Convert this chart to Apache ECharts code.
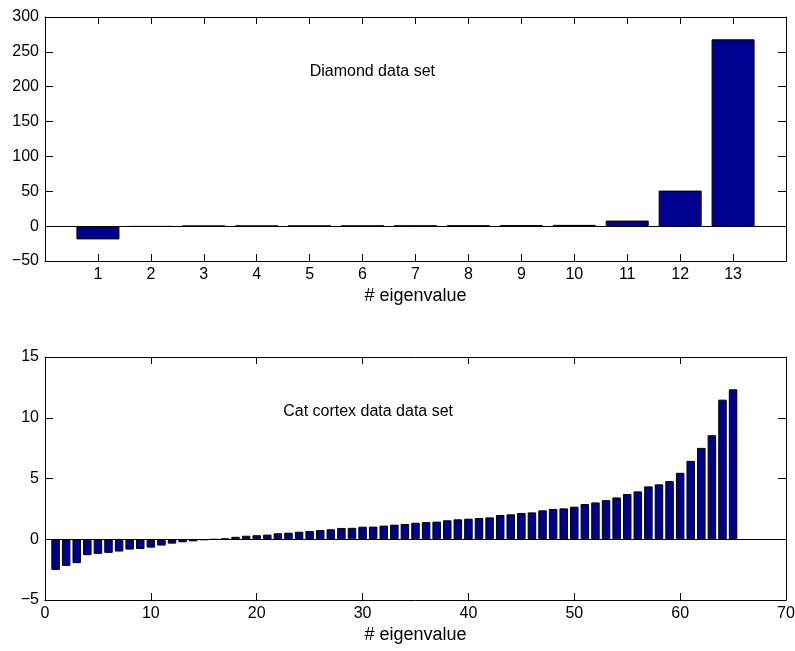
<!DOCTYPE html>
<html>
<head>
<meta charset="utf-8">
<script src="https://cdn.jsdelivr.net/npm/echarts@6/dist/echarts.min.js"></script>
<style>
html,body{margin:0;padding:0;background:#fff;}
#c{width:795px;height:651px;}
</style>
</head>
<body>
<div id="c"></div>
<script>
// Diamond data set eigenvalues (1..13)
const diamondIdx = [1,2,3,4,5,6,7,8,9,10,11,12,13];
const diamondVals = [-19, -0.8, 0.3, 0.4, 0.5, 0.6, 0.7, 0.9, 1.2, 1.8, 8, 51, 268];
const diamondYTicks = [-50, 0, 50, 100, 150, 200, 250, 300];

// Cat cortex data set eigenvalues (1..65)
const catVals = [
  -2.52, -2.19, -1.97, -1.31, -1.2, -1.12, -1.01, -0.85, -0.8, -0.69,
  -0.52, -0.36, -0.25, -0.17, -0.07, -0.02, 0.05, 0.2, 0.29, 0.33,
  0.38, 0.49, 0.54, 0.62, 0.68, 0.76, 0.82, 0.93, 0.94, 1.03,
  1.04, 1.12, 1.2, 1.26, 1.36, 1.41, 1.45, 1.56, 1.64, 1.69,
  1.75, 1.8, 2.0, 2.05, 2.16, 2.21, 2.38, 2.49, 2.54, 2.68,
  2.9, 3.03, 3.22, 3.44, 3.72, 3.94, 4.35, 4.52, 4.79, 5.47,
  6.45, 7.52, 8.56, 11.49, 12.34
];
const catIdx = catVals.map((v, i) => i + 1);

const FONT = 'Liberation Sans, Arial, Helvetica, sans-serif';
const fmtNum = v => (v < 0 ? '\u2212' + Math.abs(v) : String(v));

const chart = echarts.init(document.getElementById('c'), null, {renderer: 'canvas'});

function mainX(gi, min, max, interval, showFn) {
  return {
    type: 'value', gridIndex: gi, position: 'bottom', min, max, interval,
    name: '# eigenvalue', nameLocation: 'middle', nameGap: 26,
    nameTextStyle: {color: '#000', fontSize: 18, fontFamily: FONT},
    axisLine: {show: true, onZero: false, lineStyle: {color: '#000', width: 1}},
    axisTick: {show: true, inside: true, length: 7, lineStyle: {color: '#000'}},
    axisLabel: {show: true, color: '#000', fontSize: 16, fontFamily: FONT, margin: 6,
      formatter: v => showFn(v) ? fmtNum(v) : ''},
    splitLine: {show: false}
  };
}
function mirrorX(gi, min, max, interval) {
  return {
    type: 'value', gridIndex: gi, position: 'top', min, max, interval,
    axisLine: {show: true, onZero: false, lineStyle: {color: '#000', width: 1}},
    axisTick: {show: true, inside: true, length: 7, lineStyle: {color: '#000'}},
    axisLabel: {show: false}, splitLine: {show: false}
  };
}
function mainY(gi, min, max, interval) {
  return {
    type: 'value', gridIndex: gi, position: 'left', min, max, interval,
    axisLine: {show: true, onZero: false, lineStyle: {color: '#000', width: 1}},
    axisTick: {show: true, inside: true, length: 8, lineStyle: {color: '#000'}},
    axisLabel: {show: true, color: '#000', fontSize: 16, fontFamily: FONT, margin: 6,
      formatter: fmtNum},
    splitLine: {show: false}
  };
}
function mirrorY(gi, min, max, interval) {
  return {
    type: 'value', gridIndex: gi, position: 'right', min, max, interval,
    axisLine: {show: true, onZero: false, lineStyle: {color: '#000', width: 1}},
    axisTick: {show: true, inside: true, length: 8, lineStyle: {color: '#000'}},
    axisLabel: {show: false}, splitLine: {show: false}
  };
}

const zeroLine = {
  silent: true, symbol: 'none', label: {show: false},
  lineStyle: {color: '#000', width: 1, type: 'solid'},
  data: [{yAxis: 0}]
};

chart.setOption({
  animation: false,
  backgroundColor: '#fff',
  grid: [
    {left: 45, top: 17, width: 741, height: 244, outerBoundsMode: 'none', containLabel: false},
    {left: 45, top: 357, width: 741, height: 243, outerBoundsMode: 'none', containLabel: false}
  ],
  xAxis: [
    mainX(0, 0, 14, 1, v => v >= 1 && v <= 13),
    mirrorX(0, 0, 14, 1),
    mainX(1, 0, 70, 10, v => true),
    mirrorX(1, 0, 70, 10)
  ],
  yAxis: [
    mainY(0, -50, 300, 50),
    mirrorY(0, -50, 300, 50),
    mainY(1, -5, 15, 5),
    mirrorY(1, -5, 15, 5)
  ],
  series: [
    {
      type: 'bar', xAxisIndex: 0, yAxisIndex: 0, barWidth: 43,
      data: diamondIdx.map((x, i) => [x, diamondVals[i]]),
      itemStyle: {color: '#00008f', borderColor: '#000', borderWidth: 1},
      markLine: zeroLine
    },
    {
      type: 'bar', xAxisIndex: 2, yAxisIndex: 2, barWidth: 8.5,
      data: catIdx.map((x, i) => [x, catVals[i]]),
      itemStyle: {color: '#00008f', borderColor: '#000', borderWidth: 1},
      markLine: zeroLine
    }
  ]
});

// In-plot text annotations anchored in data coordinates
const p1 = chart.convertToPixel({xAxisIndex: 0, yAxisIndex: 0}, [5, 221]);
const p2 = chart.convertToPixel({xAxisIndex: 2, yAxisIndex: 2}, [22.5, 10.5]);
chart.setOption({
  graphic: [
    {type: 'text', x: p1[0], y: p1[1], style: {text: 'Diamond data set', fill: '#000',
      font: '16px ' + FONT, textAlign: 'left', textVerticalAlign: 'middle'}},
    {type: 'text', x: p2[0], y: p2[1], style: {text: 'Cat cortex data data set', fill: '#000',
      font: '16px ' + FONT, textAlign: 'left', textVerticalAlign: 'middle'}}
  ]
});
</script>
</body>
</html>
